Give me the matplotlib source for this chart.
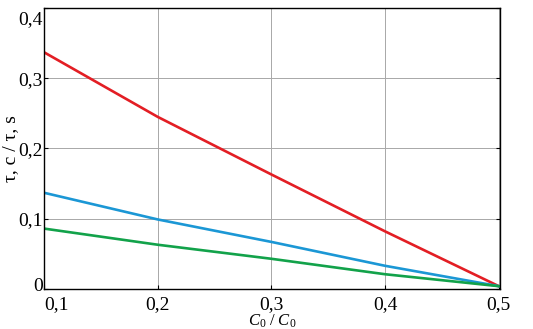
import matplotlib
matplotlib.use("Agg")
import matplotlib.pyplot as plt
import matplotlib.ticker as ticker
import matplotlib.transforms as mtransforms

plt.rcParams['font.family'] = ['Liberation Serif', 'DejaVu Serif']
plt.rcParams['mathtext.fontset'] = 'custom'
plt.rcParams['mathtext.it'] = 'Liberation Serif:italic'
plt.rcParams['mathtext.rm'] = 'Liberation Serif'

# ratio C0/C0 on the x axis
x = [0.1, 0.2, 0.3, 0.4, 0.5]
# three curves
red = [0.337, 0.245, 0.163, 0.082, 0.004]
blue = [0.137, 0.099, 0.067, 0.033, 0.004]
green = [0.086, 0.063, 0.043, 0.021, 0.004]

xticks = [0.1, 0.2, 0.3, 0.4, 0.5]
yticks = [0, 0.1, 0.2, 0.3, 0.4]

fig = plt.figure(figsize=(5.33, 3.29), dpi=100)
ax = fig.add_axes([0.0826, 0.1216, 0.8554, 0.8541])

ax.plot(x, red, color='#e31e24', lw=1.9)
ax.plot(x, blue, color='#1b97d5', lw=1.9)
ax.plot(x, green, color='#12a24a', lw=1.9)

ax.set_xlim(0.1, 0.501)
ax.set_ylim(0, 0.4)
ax.set_xticks(xticks)
ax.set_yticks(yticks)
fmt = ticker.FuncFormatter(lambda v, p: ('%g' % round(v, 2)).replace('.', ','))
ax.xaxis.set_major_formatter(fmt)
ax.yaxis.set_major_formatter(fmt)
ax.grid(True, color='#a8a8a8', lw=0.7)
ax.tick_params(direction='in', length=3, labelsize=14, right=True)
ax.tick_params(axis='x', pad=5)
ax.tick_params(axis='y', pad=1)
for s in ax.spines.values():
    s.set_linewidth(1.0)

# corner labels are nudged inward in the original
fig.canvas.draw()
shift = {
    ax.get_yticklabels()[-1]: (0, -0.1),
    ax.get_yticklabels()[0]: (0, 0.04),
    ax.get_xticklabels()[0]: (0.12, 0),
}
for lbl, (dx, dy) in shift.items():
    lbl.set_transform(lbl.get_transform() + mtransforms.ScaledTranslation(dx, dy, fig.dpi_scale_trans))

ax.set_xlabel(r'$C_0\ /\ C_0$', fontsize=12, labelpad=0)
ax.set_ylabel('τ, c / τ, s', fontsize=14)
ax.yaxis.set_label_coords(-0.055, 0.5)

fig.savefig('out.png', dpi=100)
